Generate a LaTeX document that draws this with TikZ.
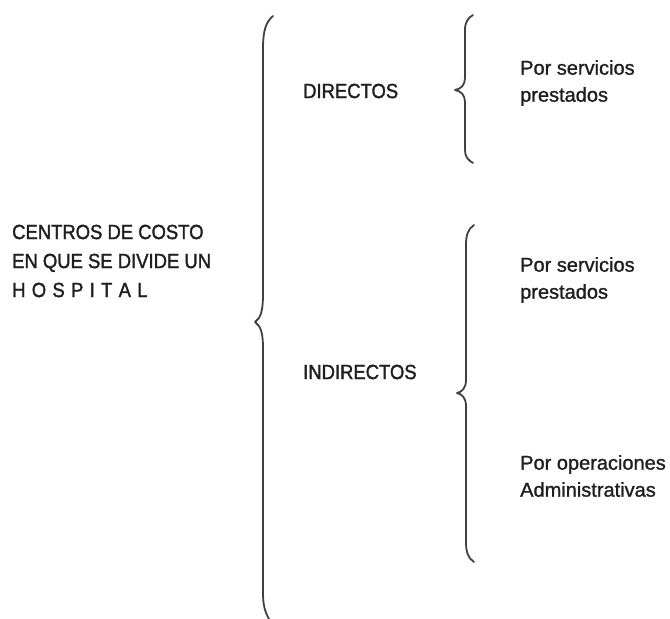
\documentclass[tikz,border=0pt]{standalone}
\usepackage{fontspec}
\setmainfont{Liberation Sans}[FakeBold=1.2]
\newfontfamily\capsfont[FakeStretch=0.9,FakeBold=1.6]{Liberation Sans}
\newcommand{\lgap}{\kern6.3pt}
\begin{document}
\begin{tikzpicture}[x=1pt,y=-1pt,
  brace/.style={line width=1.8pt, draw=black!75, line cap=round, line join=round},
  caps/.style={font=\capsfont\fontsize{20.5}{29}\selectfont, inner sep=0pt, anchor=west, align=left, text=black!88},
  item/.style={font=\fontsize{20}{27}\selectfont, inner sep=0pt, anchor=west, align=left, text=black!88}]
\useasboundingbox (0,0) rectangle (670,619);

% left title
\node[caps] (root) at (12,261) {CENTROS DE COSTO\\EN QUE SE DIVIDE UN\\H\lgap O\lgap S\lgap P\lgap I\lgap T\lgap A\lgap L};

% main brace
\draw[brace] (273,16) .. controls (266,22) and (263,30) .. (263,49) -- (263,294)
  .. controls (263,310) and (261,318) .. (255,322)
  .. controls (261,326) and (263,334) .. (263,348) -- (263,593)
  .. controls (263,605) and (265,612) .. (269,619);

% second level
\node[caps] (dir) at (303,91) {DIRECTOS};
\node[caps] (ind) at (303,372) {INDIRECTOS};

% brace for DIRECTOS
\draw[brace] (473,15) .. controls (468,18) and (465,22) .. (465,30) -- (465,78)
  .. controls (465,85) and (461,89) .. (455,90)
  .. controls (461,91) and (465,95) .. (465,102) -- (465,150)
  .. controls (465,157) and (468,160) .. (473,163);

% brace for INDIRECTOS
\draw[brace] (474,225) .. controls (468,229) and (466,235) .. (466,245) -- (466,380)
  .. controls (466,388) and (462,392) .. (457,393)
  .. controls (462,394) and (466,398) .. (466,406) -- (466,542)
  .. controls (466,552) and (468,558) .. (474,562);

% leaves
\node[item] (d1) at (520,83) {Por servicios\\prestados};
\node[item] (i1) at (520,280) {Por servicios\\prestados};
\node[item] (i2) at (520,476) {Por operaciones\\Administrativas};
\end{tikzpicture}
\end{document}
